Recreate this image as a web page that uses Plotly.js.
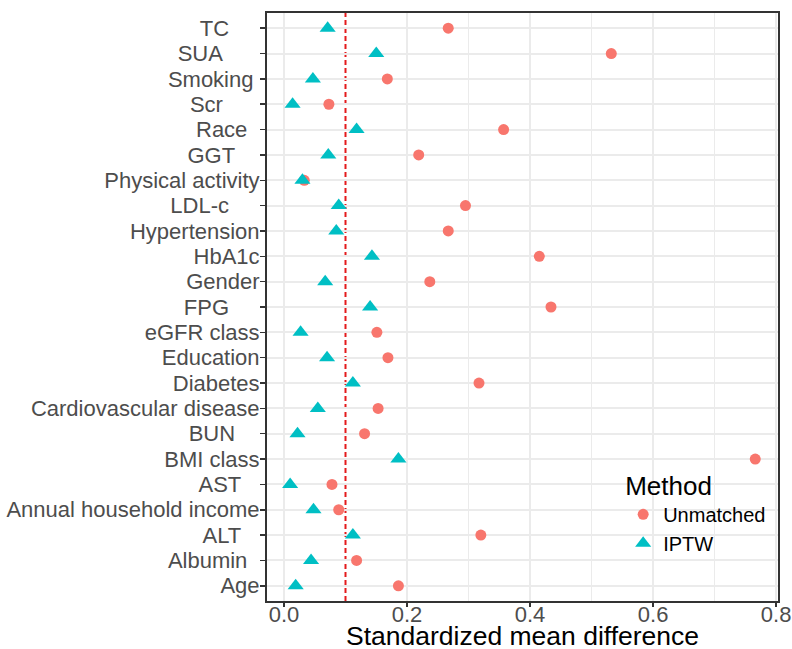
<!DOCTYPE html>
<html>
<head>
<meta charset="utf-8">
<script src="https://cdn.plot.ly/plotly-3.0.1.min.js"></script>
<style>
html,body{margin:0;padding:0;background:#fff;}
#chart{width:792px;height:649px;}
</style>
</head>
<body>
<div id="chart"></div>
<script>
// Categories from bottom to top
const categories = ["Age","Albumin","ALT","Annual household income","AST","BMI class","BUN",
  "Cardiovascular disease","Diabetes","Education","eGFR class","FPG","Gender","HbA1c",
  "Hypertension","LDL-c","Physical activity","GGT","Race","Scr","Smoking","SUA","TC"];

// Tick labels as shown (with trailing padding as in the original)
const NB = "\u00A0";
const tickLabels = ["Age","Albumin"+NB.repeat(2),"ALT"+NB.repeat(3),"Annual household income","AST"+NB.repeat(3),
  "BMI class","BUN"+NB.repeat(4),"Cardiovascular disease","Diabetes","Education","eGFR class",
  "FPG"+NB.repeat(5),"Gender","HbA1c","Hypertension","LDL-c"+NB.repeat(5),
  "Physical activity","GGT"+NB.repeat(4),"Race"+NB.repeat(2),"Scr"+NB.repeat(6),
  "Smoking"+NB,"SUA"+NB.repeat(6),"TC"+NB.repeat(5)];

// Standardized mean differences (same order as categories)
const unmatched = [0.186,0.118,0.320,0.089,0.078,0.766,0.131,
  0.153,0.317,0.169,0.151,0.434,0.237,0.415,
  0.267,0.295,0.033,0.219,0.357,0.073,0.168,0.532,0.267];
const iptw = [0.019,0.044,0.112,0.048,0.010,0.186,0.022,
  0.055,0.112,0.070,0.027,0.140,0.067,0.143,
  0.085,0.089,0.030,0.072,0.118,0.014,0.047,0.150,0.071];

const threshold = 0.1;
const xTicks = [0, 0.2, 0.4, 0.6, 0.8];
const xTickText = ["0.0","0.2","0.4","0.6","0.8"];
const minorTicks = [0.3, 0.5, 0.7];   // 0.1 is covered by the threshold line
const xTitle = "Standardized mean difference";

const FONT = "Liberation Sans, Arial, sans-serif";

const traces = [
  {
    type: "scatter", mode: "markers", name: "Unmatched",
    x: unmatched, y: categories,
    marker: {symbol: "circle", size: 11, color: "#F8766D"},
    cliponaxis: false
  },
  {
    type: "scatter", mode: "markers", name: "IPTW",
    x: iptw, y: categories,
    marker: {symbol: "triangle-up", size: 14, color: "#00BFC4"},
    cliponaxis: false
  }
];

const layout = {
  width: 792, height: 649,
  margin: {l: 267, r: 14, t: 13, b: 48},
  paper_bgcolor: "#ffffff", plot_bgcolor: "#ffffff",
  font: {family: FONT, color: "#4d4d4d"},
  showlegend: true,
  legend: {
    x: 0.697, xanchor: "left", y: 0.238, yanchor: "top",
    bgcolor: "rgba(0,0,0,0)",
    title: {text: "Method", font: {size: 26, color: "#000000", family: FONT}},
    font: {size: 20, color: "#000000", family: FONT},
    tracegroupgap: 0
  },
  xaxis: {
    range: [-0.0276, 0.803],
    tickvals: xTicks, ticktext: xTickText,
    ticks: "outside", ticklen: 4, tickwidth: 1.5, tickcolor: "#333333",
    tickfont: {size: 22, color: "#4d4d4d", family: FONT},
    ticklabelstandoff: -11,
    showgrid: true, gridcolor: "#EBEBEB", gridwidth: 2,
    minor: {tickvals: minorTicks, showgrid: true, gridcolor: "#EBEBEB", gridwidth: 1},
    zeroline: false,
    showline: true, linecolor: "#333333", linewidth: 2, mirror: true
  },
  yaxis: {
    type: "category",
    categoryorder: "array", categoryarray: categories,
    range: [-0.6, 22.6],
    tickvals: categories, ticktext: tickLabels,
    ticks: "outside", ticklen: 5, tickwidth: 1.5, tickcolor: "#333333",
    tickfont: {size: 22, color: "#4d4d4d", family: FONT},
    ticklabelstandoff: -4,
    showgrid: true, gridcolor: "#EBEBEB", gridwidth: 2,
    zeroline: false,
    showline: true, linecolor: "#333333", linewidth: 2, mirror: true
  },
  annotations: [{
    text: xTitle, xref: "paper", yref: "paper", x: 0.5, y: 0,
    xanchor: "center", yanchor: "middle", yshift: -35, showarrow: false,
    font: {size: 26.5, color: "#000000", family: FONT}
  }],
  shapes: [{
    type: "line", xref: "x", yref: "paper",
    x0: threshold, x1: threshold, y0: 0, y1: 1,
    line: {color: "#E41A1C", width: 2, dash: "5px,3px"},
    layer: "between"
  }]
};

Plotly.newPlot("chart", traces, layout, {displayModeBar: false, staticPlot: true});
</script>
</body>
</html>
